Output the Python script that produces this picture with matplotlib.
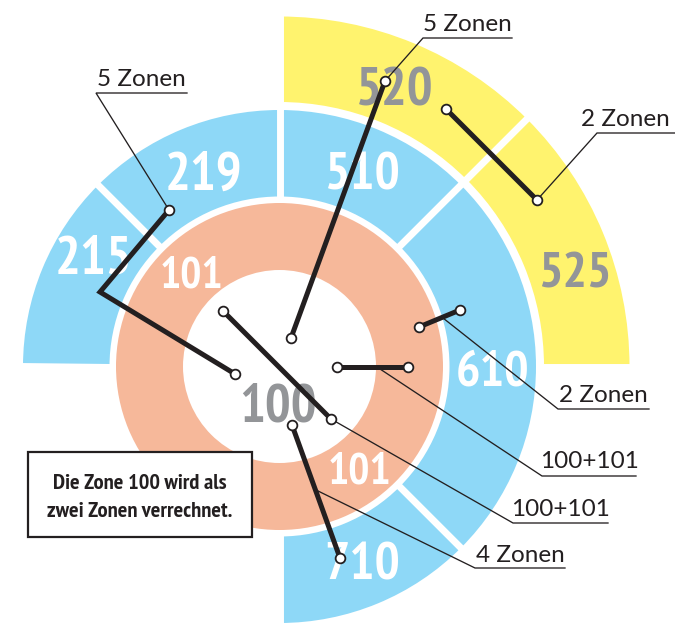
import matplotlib
matplotlib.use("Agg")
import matplotlib.pyplot as plt
from matplotlib.patches import Wedge, Rectangle
from matplotlib import font_manager
import numpy as np

# ---------------- data ----------------
center_zone = "100"
inner_ring_zones = ["101", "101"]
middle_ring_zones = ["710", "610", "510", "219", "215"]
outer_ring_zones = ["525", "520"]
annotation_texts = ["5 Zonen", "5 Zonen", "2 Zonen", "2 Zonen", "100+101", "100+101", "4 Zonen"]
note_text = "Die Zone 100 wird als\nzwei Zonen verrechnet."

# ---------------- styling / layout ----------------
BLUE = "#8ED8F7"
SALMON = "#F6B89A"
YELLOW = "#FFF36E"
GREY = "#939598"
INK = "#231F20"

names = {f.name for f in font_manager.fontManager.ttflist}
NARROW = next((n for n in ["PT Sans Narrow", "Fira Sans Condensed", "Roboto Condensed"] if n in names), "DejaVu Sans")
REG = "Lato" if "Lato" in names else "DejaVu Sans"

W, H = 675, 625
fig = plt.figure(figsize=(W / 100, H / 100), dpi=100)
ax = fig.add_axes([0, 0, 1, 1])
ax.set_xlim(0, W)
ax.set_ylim(H, 0)
ax.set_aspect("equal")
ax.axis("off")

cx, cy = 279.5, 366.5
R_SAL = (96.5, 163.5)
R_BLUE = (170.0, 256.5)
R_YEL = (264.5, 350.0)


def wedge(r, a1, a2, color, z=1):
    # a1, a2: screen angles (counter-clockwise); y axis is inverted
    ax.add_patch(Wedge((cx, cy), r[1], -a2, -a1, width=r[1] - r[0],
                       facecolor=color, edgecolor="none", zorder=z))


# rings
wedge(R_SAL, 0, 360, SALMON)
blue_spans = [(-90, -45), (-45, 45), (45, 90), (90, 135), (135, 180)]
for a1, a2 in blue_spans:
    wedge(R_BLUE, a1, a2, BLUE)
yellow_spans = [(0, 45), (45, 90)]
for a1, a2 in yellow_spans:
    wedge(R_YEL, a1, a2, YELLOW)


def divider(angle, r0, r1):
    t = np.deg2rad(angle)
    ax.plot([cx + r0 * np.cos(t), cx + r1 * np.cos(t)],
            [cy - r0 * np.sin(t), cy - r1 * np.sin(t)],
            color="white", lw=5.0, solid_capstyle="butt", zorder=2)


for a in [-90, -45, 45, 90, 135, 180]:
    divider(a, R_BLUE[0] - 2, R_BLUE[1] + 2)
for a in [0, 45, 90]:
    divider(a, R_YEL[0] - 2, R_YEL[1] + 2)

# zone labels (text, x, baseline y, size, color)
label_layout = [
    (center_zone, 278, 421, 39, GREY),
    (inner_ring_zones[0], 191, 288, 32, "white"),
    (inner_ring_zones[1], 360, 483, 32, "white"),
    (middle_ring_zones[0], 362, 580, 38, "white"),
    (middle_ring_zones[1], 493, 385, 37, "white"),
    (middle_ring_zones[2], 362, 189, 38, "white"),
    (middle_ring_zones[3], 204, 190, 39, "white"),
    (middle_ring_zones[4], 94, 273, 39, "white"),
    (outer_ring_zones[0], 575, 288, 37, GREY),
    (outer_ring_zones[1], 395, 106, 39, GREY),
]
for txt, x, y, s, c in label_layout:
    ax.text(x, y, txt, ha="center", va="baseline", fontsize=s,
            fontfamily=NARROW, fontweight="bold", color=c, zorder=3)

# annotations: thick path, leader start, leader knee, underline end, text baseline
annots = [
    ([(169, 210), (100, 292), (235, 374)], (169, 210), (96, 93), 187, 86),
    ([(291, 338), (385, 81)], (385, 81), (423, 38), 512, 31),
    ([(446, 109), (537, 200)], (537, 200), (597, 133), 676, 126),
    ([(419, 327), (460, 310)], (443, 318), (558, 409), 649, 402),
    ([(337, 367), (408, 367)], (377, 367), (542, 476), 636, 468),
    ([(223, 311), (331, 419)], (331, 419), (513, 523), 608, 516),
    ([(292, 425), (340, 558)], (316, 490), (475, 568), 565, 562),
]
for (path, a, k, uend, tb), txt in zip(annots, annotation_texts):
    ax.plot([a[0], k[0], uend], [a[1], k[1], k[1]], color=INK, lw=0.95,
            zorder=4, solid_joinstyle="miter")
    xs = [p[0] for p in path]
    ys = [p[1] for p in path]
    ax.plot(xs, ys, color=INK, lw=3.6, zorder=5, solid_capstyle="round",
            solid_joinstyle="miter")
    ax.plot([xs[0], xs[-1]], [ys[0], ys[-1]], ls="none", marker="o", ms=7,
            mfc="white", mec=INK, mew=1.3, zorder=6)
    edge = uend >= 670
    tx = 670 if edge else (k[0] + uend) / 2
    ax.text(tx, tb, txt, ha="right" if edge else "center", va="baseline",
            fontsize=17.5, fontfamily=REG, color=INK, zorder=6)

# note box
ax.add_patch(Rectangle((28, 452), 224, 85, facecolor="white", edgecolor=INK,
                       lw=1.6, zorder=6))
line1, line2 = note_text.split("\n")
ax.text(140, 489, line1, ha="center", va="baseline", fontsize=16.2,
        fontfamily=NARROW, fontweight="bold", color=INK, zorder=7)
ax.text(140, 517, line2, ha="center", va="baseline", fontsize=16.2,
        fontfamily=NARROW, fontweight="bold", color=INK, zorder=7)

fig.savefig("out.png", dpi=100)
